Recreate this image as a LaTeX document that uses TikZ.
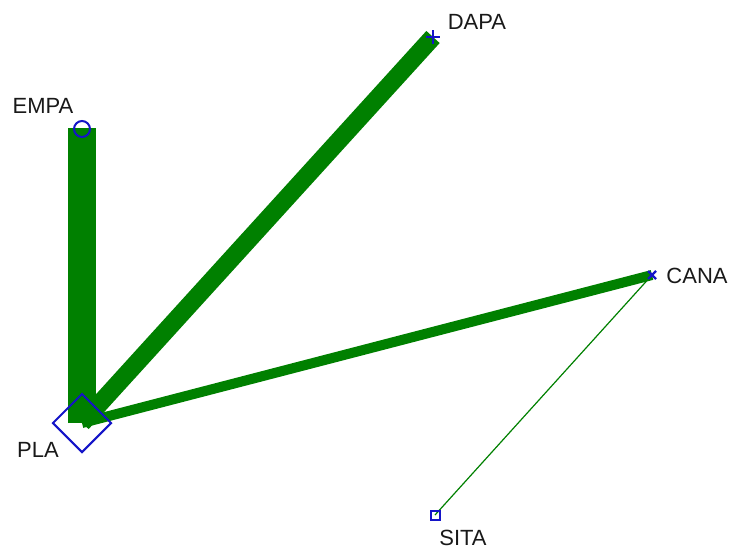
\documentclass[tikz,border=0pt]{standalone}
\usepackage{fontspec}
\setsansfont{Liberation Sans}
\usetikzlibrary{shapes.geometric}
\definecolor{netgreen}{RGB}{0,128,0}
\definecolor{netblue}{RGB}{20,20,200}
\begin{document}
\begin{tikzpicture}[x=1pt,y=-1pt,
        treat/.style={draw=netblue,line width=2pt,inner sep=0pt},
        tlabel/.style={font=\sffamily\fontsize{22}{22}\selectfont,text=black!90},
        link/.style={draw=netgreen,line cap=butt}]
        \useasboundingbox (0,0) rectangle (734,552);
        % treatment positions
        \coordinate (pla) at (82,423);
        \coordinate (empa) at (82,129);
        \coordinate (dapa) at (433,37);
        \coordinate (cana) at (652,275);
        \coordinate (sita) at (435,515);
        % comparisons
        \draw[link,line width=28pt] (pla) -- ([yshift=1pt]empa);
        \draw[link,line width=18pt] (pla) -- (dapa);
        \draw[link,line width=10pt] (pla) -- (cana);
        \draw[link,line width=1.2pt] (cana) -- (sita);
        % markers
        \node[treat,diamond,minimum size=59pt] (plamark) at (pla) {};
        \node[treat,circle,minimum size=16pt] (empamark) at (empa) {};
        \draw[netblue,line width=2.2pt] ([xshift=-7pt]dapa) -- ([xshift=7pt]dapa);
        \draw[netblue,line width=2.2pt] ([yshift=-7pt]dapa) -- ([yshift=7pt]dapa);
        \draw[netblue,line width=2.2pt] ([shift={(-4pt,-4pt)}]cana) -- ([shift={(4pt,4pt)}]cana);
        \draw[netblue,line width=2.2pt] ([shift={(-4pt,4pt)}]cana) -- ([shift={(4pt,-4pt)}]cana);
        \node[treat,rectangle,minimum size=9pt] (sitamark) at (sita) {};
        % names
        \node[tlabel] (planame) at (38,450) {PLA};
        \node[tlabel] (empaname) at (43,106) {EMPA};
        \node[tlabel] (dapaname) at (477,22) {DAPA};
        \node[tlabel] (cananame) at (697,276) {CANA};
        \node[tlabel] (sitaname) at (463,538) {SITA};
    \end{tikzpicture}
\end{document}
